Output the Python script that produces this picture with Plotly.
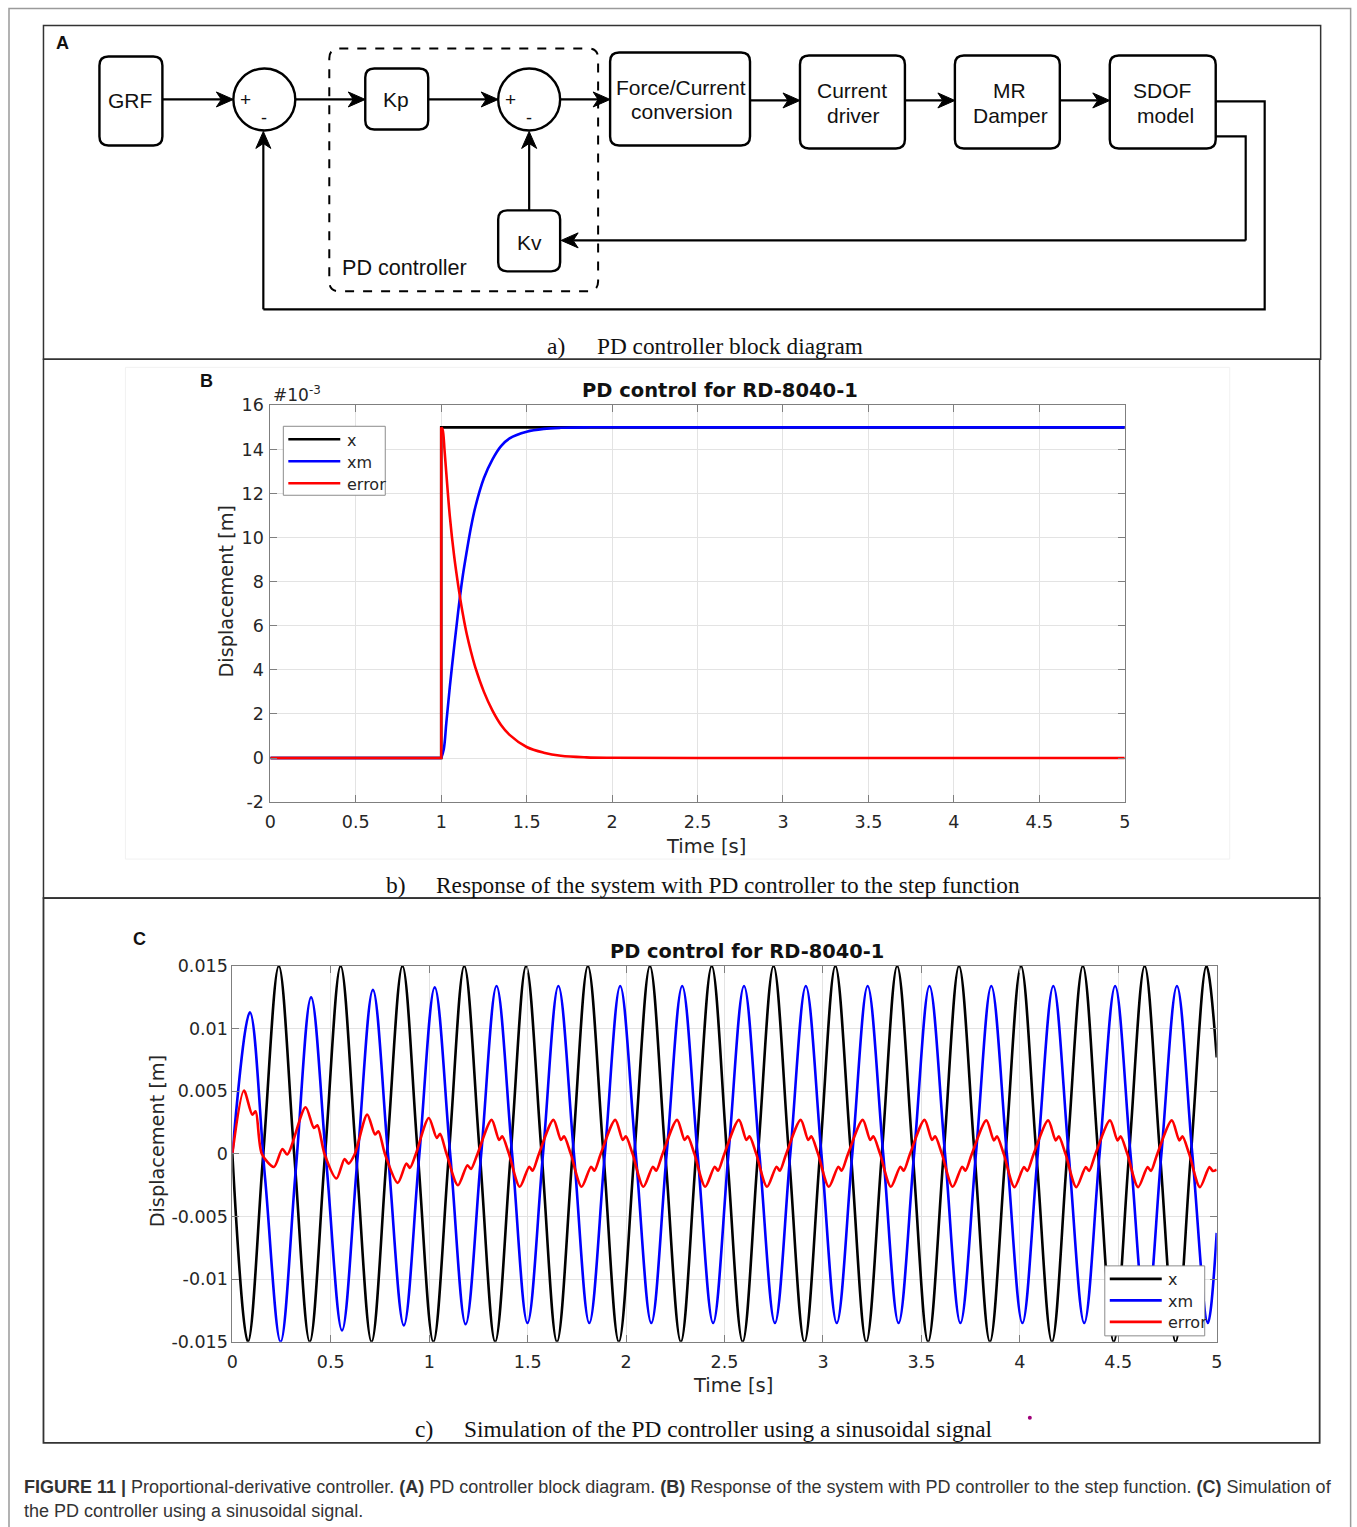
import plotly.graph_objects as go

W, H = 1357, 1527
FW, FH = 1357, 1540
# measured page-to-picture mapping of the viewer: pic = S*fig + B
SX, BX = 0.9918, 5.5
SY, BY = 0.9875, 8.5


def X(p):
    return ((p - BX) / SX) / FW


def Y(p):
    return 1 - ((p - BY) / SY) / FH


# ---------------- DATA ----------------
# Panel B: step response (values in 1e-3 m)
b_x_t = [0, 1, 1, 5]
b_x_v = [0, 0, 15, 15]
b_xm_flat_t = [0, 1]
b_xm_flat_v = [0, 0]
b_xm_t = [1.0, 1.015, 1.03, 1.05, 1.075, 1.1, 1.125, 1.15, 1.175, 1.2, 1.25, 1.3, 1.35, 1.4, 1.5, 1.6, 1.7, 1.85, 2.2, 5.0]
b_xm_v = [0, 0.4, 1.6, 3.2, 5.0, 6.7, 8.2, 9.4, 10.5, 11.4, 12.7, 13.55, 14.15, 14.5, 14.8, 14.93, 14.98, 15.0, 15.0, 15.0]
b_err_step_t = [0, 1, 1]
b_err_step_v = [0, 0, 15]
b_err_t = [1.0, 1.008, 1.02, 1.035, 1.05, 1.075, 1.1, 1.125, 1.15, 1.175, 1.2, 1.25, 1.3, 1.35, 1.4, 1.5, 1.6, 1.7, 1.85, 2.0, 2.5, 5.0]
b_err_v = [15.0, 14.9, 13.9, 12.4, 11.0, 9.2, 7.8, 6.6, 5.6, 4.8, 4.1, 3.0, 2.15, 1.5, 1.05, 0.5, 0.24, 0.1, 0.03, 0.01, 0, 0]

# Panel C: sinusoidal input (values in m)
c_x_t = [0.000, 0.079, 0.157, 0.236, 0.314, 0.393, 0.471, 0.550, 0.628, 0.707, 0.785, 0.864, 0.942,
         1.021, 1.100, 1.178, 1.257, 1.335, 1.414, 1.492, 1.571, 1.649, 1.728, 1.806, 1.885, 1.963,
         2.042, 2.121, 2.199, 2.278, 2.356, 2.435, 2.513, 2.592, 2.670, 2.749, 2.827, 2.906, 2.985,
         3.063, 3.142, 3.220, 3.299, 3.377, 3.456, 3.534, 3.613, 3.691, 3.770, 3.848, 3.927, 4.006,
         4.084, 4.163, 4.241, 4.320, 4.398, 4.477, 4.555, 4.634, 4.712, 4.791, 4.869, 4.948, 5.000]
c_x_v = [0, -0.015, 0, 0.015, 0, -0.015, 0, 0.015,
         0, -0.015, 0, 0.015, 0, -0.015, 0, 0.015,
         0, -0.015, 0, 0.015, 0, -0.015, 0, 0.015,
         0, -0.015, 0, 0.015, 0, -0.015, 0, 0.015,
         0, -0.015, 0, 0.015, 0, -0.015, 0, 0.015,
         0, -0.015, 0, 0.015, 0, -0.015, 0, 0.015,
         0, -0.015, 0, 0.015, 0, -0.015, 0, 0.015,
         0, -0.015, 0, 0.015, 0, -0.015, 0, 0.015,
         0.0077]

c_xm_t = [0.000, 0.089, 0.166, 0.245, 0.322, 0.400, 0.478, 0.557, 0.635, 0.714, 0.792, 0.871, 0.949,
          1.028, 1.107, 1.185, 1.264, 1.342, 1.421, 1.499, 1.578, 1.656, 1.735, 1.813, 1.892, 1.970,
          2.049, 2.128, 2.206, 2.285, 2.363, 2.442, 2.520, 2.599, 2.677, 2.756, 2.834, 2.913, 2.992,
          3.070, 3.149, 3.227, 3.306, 3.384, 3.463, 3.541, 3.620, 3.698, 3.777, 3.855, 3.934, 4.013,
          4.091, 4.170, 4.248, 4.327, 4.405, 4.484, 4.562, 4.641, 4.719, 4.798, 4.876, 4.955, 5.000]
c_xm_v = [0, 0.0113, -0.0019, -0.0150,
          -0.0013, 0.0125, -0.0008, -0.0141,
          -0.0005, 0.0131, -0.0003, -0.0137,
          -0.0002, 0.0133, -0.0001, -0.0136,
          0, 0.0134, 0, -0.0135,
          0, 0.0134, 0, -0.0135,
          0, 0.0134, 0, -0.0135,
          0, 0.0134, 0, -0.0135,
          0, 0.0134, 0, -0.0135,
          0, 0.0134, 0, -0.0135,
          0, 0.0134, 0, -0.0135,
          0, 0.0134, 0, -0.0135,
          0, 0.0134, 0, -0.0135,
          0, 0.0134, 0, -0.0135,
          0, 0.0134, 0, -0.0135,
          0, 0.0134, 0, -0.0135,
          -0.0063]

c_err_t = [0.000, 0.059, 0.101, 0.118, 0.150, 0.211, 0.254, 0.279,
           0.372, 0.414, 0.432, 0.468, 0.529, 0.570, 0.590, 0.622,
           0.685, 0.725, 0.742, 0.775, 0.840, 0.884, 0.902, 0.932,
           0.998, 1.038, 1.055, 1.088, 1.146, 1.194, 1.212, 1.245,
           1.317, 1.355, 1.371, 1.405, 1.460, 1.508, 1.525, 1.557,
           1.631, 1.669, 1.685, 1.719, 1.774, 1.822, 1.839, 1.871,
           1.945, 1.983, 1.999, 2.033, 2.088, 2.136, 2.153, 2.185,
           2.259, 2.297, 2.313, 2.347, 2.402, 2.450, 2.467, 2.499,
           2.573, 2.611, 2.627, 2.661, 2.716, 2.764, 2.781, 2.813,
           2.887, 2.925, 2.941, 2.975, 3.030, 3.078, 3.095, 3.127,
           3.202, 3.240, 3.256, 3.290, 3.345, 3.393, 3.410, 3.442,
           3.516, 3.554, 3.570, 3.604, 3.659, 3.707, 3.724, 3.756,
           3.830, 3.868, 3.884, 3.918, 3.973, 4.021, 4.038, 4.070,
           4.144, 4.182, 4.198, 4.232, 4.287, 4.335, 4.352, 4.384,
           4.458, 4.496, 4.512, 4.546, 4.601, 4.649, 4.666, 4.698,
           4.772, 4.810, 4.826, 4.860, 4.915, 4.963, 4.980, 5.000]
c_err_v = [0, 0.00506, 0.00314, 0.00340, 0, -0.00104, 0.00040, -0.00005,
           0.00373, 0.00208, 0.00229, 0, -0.00196, -0.00040, -0.00077, 0,
           0.00314, 0.00155, 0.00181, 0, -0.00231, -0.00077, -0.00111, 0,
           0.00287, 0.00128, 0.00160, 0, -0.00250, -0.00090, -0.00120, 0,
           0.00272, 0.00112, 0.00140, 0, -0.00262, -0.00102, -0.00133, 0,
           0.00272, 0.00112, 0.00140, 0, -0.00262, -0.00102, -0.00133, 0,
           0.00272, 0.00112, 0.00140, 0, -0.00262, -0.00102, -0.00133, 0,
           0.00272, 0.00112, 0.00140, 0, -0.00262, -0.00102, -0.00133, 0,
           0.00272, 0.00112, 0.00140, 0, -0.00262, -0.00102, -0.00133, 0,
           0.00272, 0.00112, 0.00140, 0, -0.00262, -0.00102, -0.00133, 0,
           0.00272, 0.00112, 0.00140, 0, -0.00262, -0.00102, -0.00133, 0,
           0.00272, 0.00112, 0.00140, 0, -0.00262, -0.00102, -0.00133, 0,
           0.00268, 0.00108, 0.00140, 0, -0.00265, -0.00105, -0.00136, 0,
           0.00268, 0.00108, 0.00140, 0, -0.00265, -0.00105, -0.00136, 0,
           0.00268, 0.00108, 0.00140, 0, -0.00265, -0.00105, -0.00136, 0,
           0.00268, 0.00108, 0.00140, 0, -0.00265, -0.00105, -0.00136, -0.00125]

b_yticks = [-2, 0, 2, 4, 6, 8, 10, 12, 14, 16]
xticks = [0, 0.5, 1, 1.5, 2, 2.5, 3, 3.5, 4, 4.5, 5]
xtick_text = ["0", "0.5", "1", "1.5", "2", "2.5", "3", "3.5", "4", "4.5", "5"]
c_yticks = [-0.015, -0.01, -0.005, 0, 0.005, 0.01, 0.015]
c_ytick_text = ["-0.015", "-0.01", "-0.005", "0", "0.005", "0.01", "0.015"]
series_names = ["x", "xm", "error"]
series_colors = ["#000000", "#0000ff", "#ff0000"]

# ---------------- FIGURE ----------------
fig = go.Figure()
LW = 2.6


def add(t, v, color, ax, ay, spline=False, sm=1.0, name=""):
    ln = dict(color=color, width=LW)
    if spline:
        ln.update(shape="spline", smoothing=sm)
    fig.add_trace(go.Scatter(x=t, y=v, mode="lines", name=name, line=ln, xaxis=ax, yaxis=ay,
                             showlegend=False, hoverinfo="skip"))


# Panel B traces
add(b_x_t, b_x_v, series_colors[0], "x", "y", name="x")
add(b_xm_flat_t, b_xm_flat_v, series_colors[1], "x", "y", name="xm")
add(b_xm_t, b_xm_v, series_colors[1], "x", "y", spline=True, sm=1.0, name="xm")
add(b_err_step_t, b_err_step_v, series_colors[2], "x", "y", name="error")
add(b_err_t, b_err_v, series_colors[2], "x", "y", spline=True, sm=1.0, name="error")

# Panel C traces
add(c_x_t, c_x_v, series_colors[0], "x2", "y2", spline=True, sm=1.0, name="x")
add(c_xm_t, c_xm_v, series_colors[1], "x2", "y2", spline=True, sm=1.0, name="xm")
add(c_err_t, c_err_v, series_colors[2], "x2", "y2", spline=True, sm=0.8, name="error")

axcol = "#7f7f7f"
gridcol = "#e3e3e3"
tickfont = dict(family="DejaVu Sans", size=17.5, color="#262626")
common = dict(showline=True, linecolor=axcol, linewidth=1, mirror="ticks", ticks="inside", ticklen=7,
              tickcolor=axcol, showgrid=True, gridcolor=gridcol, gridwidth=1, zeroline=False, tickfont=tickfont)

fig.update_layout(
    width=FW, height=FH, margin=dict(l=0, r=0, t=0, b=0),
    paper_bgcolor="white", plot_bgcolor="white", showlegend=False,
    xaxis=dict(domain=[X(270), X(1125)], range=[0, 5], anchor="y", tickvals=xticks, ticktext=xtick_text,
               ticklabelstandoff=4, **common),
    yaxis=dict(domain=[Y(801), Y(404)], range=[-2, 16], anchor="x", tickvals=b_yticks,
               ticktext=[str(v) for v in b_yticks], ticklabelstandoff=2, **common),
    xaxis2=dict(domain=[X(232), X(1217)], range=[0, 5], anchor="y2", tickvals=xticks, ticktext=xtick_text,
                ticklabelstandoff=4, **common),
    yaxis2=dict(domain=[Y(1341), Y(965)], range=[-0.015, 0.015], anchor="x2", tickvals=c_yticks,
                ticktext=c_ytick_text, ticklabelstandoff=0, **common),
)

shapes = []
annots = []


def line_path(pts, color="black", width=2.2, dash=None):
    d = "M " + " L ".join(f"{X(a):.6f},{Y(b):.6f}" for a, b in pts)
    ln = dict(color=color, width=width)
    if dash:
        ln["dash"] = dash
    shapes.append(dict(type="path", xref="paper", yref="paper", path=d, line=ln))


def rrect(x0, y0, x1, y1, r=9, color="black", width=2.4, dash=None, fill=None, layer="above"):
    pts = [
        ("M", x0 + r, y0), ("L", x1 - r, y0), ("Q", x1, y0, x1, y0 + r), ("L", x1, y1 - r),
        ("Q", x1, y1, x1 - r, y1), ("L", x0 + r, y1), ("Q", x0, y1, x0, y1 - r), ("L", x0, y0 + r),
        ("Q", x0, y0, x0 + r, y0),
    ]
    parts = []
    for p in pts:
        if p[0] == "Q":
            parts.append(f"Q {X(p[1]):.6f},{Y(p[2]):.6f} {X(p[3]):.6f},{Y(p[4]):.6f}")
        else:
            parts.append(f"{p[0]} {X(p[1]):.6f},{Y(p[2]):.6f}")
    ln = dict(color=color, width=width)
    if dash:
        ln["dash"] = dash
    s = dict(type="path", xref="paper", yref="paper", path=" ".join(parts) + " Z", line=ln, layer=layer)
    if fill:
        s["fillcolor"] = fill
    shapes.append(s)


def rect(x0, y0, x1, y1, color="#333", width=1.5, fill=None, layer="above"):
    s = dict(type="rect", xref="paper", yref="paper", x0=X(x0), x1=X(x1), y0=Y(y1), y1=Y(y0),
             line=dict(color=color, width=width), layer=layer)
    if fill:
        s["fillcolor"] = fill
    shapes.append(s)


def circle(cx, cy, r, color="black", width=2.4):
    shapes.append(dict(type="circle", xref="paper", yref="paper", x0=X(cx - r), x1=X(cx + r),
                       y0=Y(cy + r), y1=Y(cy - r), line=dict(color=color, width=width)))


def arrow(tipx, tipy, tailx, taily, L=17, w=7.5, notch=5):
    dx, dy = tipx - tailx, tipy - taily
    n = (dx * dx + dy * dy) ** 0.5
    ux, uy = dx / n, dy / n
    px_, py_ = -uy, ux
    bx, by = tipx - L * ux, tipy - L * uy
    nx, ny = tipx - (L - notch) * ux, tipy - (L - notch) * uy
    line_path([(tailx, taily), (nx, ny)])
    pts = [(tipx, tipy), (bx + w * px_, by + w * py_), (nx, ny), (bx - w * px_, by - w * py_)]
    d = "M " + " L ".join(f"{X(a):.6f},{Y(b):.6f}" for a, b in pts) + " Z"
    shapes.append(dict(type="path", xref="paper", yref="paper", path=d, fillcolor="black",
                       line=dict(color="black", width=1)))


def txt(x, y, s, size, family="Liberation Sans", color="#111", xanchor="center", yanchor="middle", angle=0):
    annots.append(dict(x=X(x), y=Y(y), xref="paper", yref="paper", text=s, showarrow=False,
                       font=dict(family=family, size=size, color=color), xanchor=xanchor, yanchor=yanchor,
                       textangle=angle))


# Outer frame and panel frames
line_path([(8.5, 1527), (8.5, 7), (1351, 7), (1351, 1527)], color="#9a9a9a", width=1.5)
rect(43, 24, 1321, 358, color="#333", width=1.5)
rect(43, 358, 1320, 897, color="#333", width=1.5)
rect(43, 897, 1320, 1442, color="#333", width=1.8)
rect(125, 366, 1230, 858, color="#f1f1f1", width=1, layer="below")

# ---------------- Panel A: block diagram ----------------
rrect(99, 55, 162, 144)            # GRF
circle(264, 98, 31)
rrect(329, 47, 598, 290, r=10, width=2.0, dash="dash")
rrect(365, 67, 428, 128)           # Kp
circle(529, 98, 31)
rrect(610, 51, 750, 144)           # Force/Current
rrect(800, 54, 905, 147)           # Current driver
rrect(955, 54, 1060, 147)          # MR Damper
rrect(1110, 54, 1216, 147)         # SDOF
rrect(498, 209, 560, 270)          # Kv

line_path([(1216, 100), (1265, 100), (1265, 308), (263, 308)])
line_path([(1216, 135), (1246, 135), (1246, 239)])

arrow(233, 98, 162, 98)
arrow(365, 98, 295, 98)
arrow(498, 98, 428, 98)
arrow(610, 98, 560, 98)
arrow(800, 99, 750, 99)
arrow(955, 99, 905, 99)
arrow(1110, 99, 1060, 99)
arrow(529, 130, 529, 209)
arrow(263, 130, 263, 308)
arrow(561, 239, 1246, 239)

txt(62, 42, "<b>A</b>", 18, color="#111")
txt(130, 99, "GRF", 21)
txt(245, 98, "+", 19)
txt(264, 117, "-", 18)
txt(396, 98, "Kp", 21)
txt(510, 98, "+", 19)
txt(529, 117, "-", 18)
txt(681, 86, "Force/Current", 21)
txt(682, 110, "conversion", 21)
txt(852, 89, "Current", 21)
txt(854, 114, "driver", 21)
txt(1010, 89, "MR", 21)
txt(1011, 114, "Damper", 21)
txt(1162, 89, "SDOF", 21)
txt(1166, 114, "model", 21)
txt(529, 241, "Kv", 21)
txt(404, 266, "PD controller", 21.6)

serif = "Liberation Serif"
txt(556, 345, "a)", 23.5, family=serif, color="#111")
txt(595, 345, "PD controller block diagram", 23.3, family=serif, color="#111", xanchor="left")

# ---------------- Panel B texts ----------------
txt(206, 380, "<b>B</b>", 18)
txt(720, 389, "<b>PD control for RD-8040-1</b>", 19.5, family="DejaVu Sans")
txt(271, 393, "#10<sup>-3</sup>", 17, family="DejaVu Sans", color="#262626", xanchor="left")
txt(226, 590, "Displacement [m]", 19.3, family="DejaVu Sans", color="#262626", angle=-90)
txt(706, 845, "Time [s]", 19.5, family="DejaVu Sans", color="#262626")
txt(396, 884, "b)", 23.5, family=serif)
txt(434, 884, "Response of the system with PD controller to the step function", 23.3, family=serif, xanchor="left")

# Legend B
rect(283, 425, 385, 494, color="#8c8c8c", width=1, fill="white")
for i, (nm, col) in enumerate(zip(series_names, series_colors)):
    yy = 438 + 22 * i
    line_path([(288, yy), (340, yy)], color=col, width=2.6)
    txt(345, yy + 1, nm, 16, family="DejaVu Sans", color="#262626", xanchor="left")

# ---------------- Panel C texts ----------------
txt(139, 938, "<b>C</b>", 18)
txt(747, 950, "<b>PD control for RD-8040-1</b>", 19.4, family="DejaVu Sans")
txt(158, 1140, "Displacement [m]", 19.3, family="DejaVu Sans", color="#262626", angle=-90)
txt(733, 1385, "Time [s]", 19.5, family="DejaVu Sans", color="#262626")
txt(424, 1428, "c)", 23.5, family=serif)
txt(462, 1428, "Simulation of the PD controller using a sinusoidal signal", 23.3, family=serif, xanchor="left")
shapes.append(dict(type="circle", xref="paper", yref="paper", x0=X(1028), x1=X(1032), y0=Y(1419), y1=Y(1415),
                   line=dict(color="#a0007a", width=0), fillcolor="#a0007a"))

# Legend C
rect(1105, 1265, 1205, 1335, color="#8c8c8c", width=1, fill="white")
for i, (nm, col) in enumerate(zip(series_names, series_colors)):
    yy = 1278 + 21.5 * i
    line_path([(1110, yy), (1162, yy)], color=col, width=2.6)
    txt(1166, yy + 1, nm, 16, family="DejaVu Sans", color="#262626", xanchor="left")

# ---------------- Figure caption ----------------
txt(22, 1486, "<b>FIGURE 11 |</b> Proportional-derivative controller. <b>(A)</b> PD controller block diagram. "
    "<b>(B)</b> Response of the system with PD controller to the step function. <b>(C)</b> Simulation of",
    18.0, color="#333", xanchor="left")
txt(22, 1510, "the PD controller using a sinusoidal signal.", 18.0, color="#333", xanchor="left")

fig.update_layout(shapes=shapes, annotations=annots)
fig.write_html("out.html")
